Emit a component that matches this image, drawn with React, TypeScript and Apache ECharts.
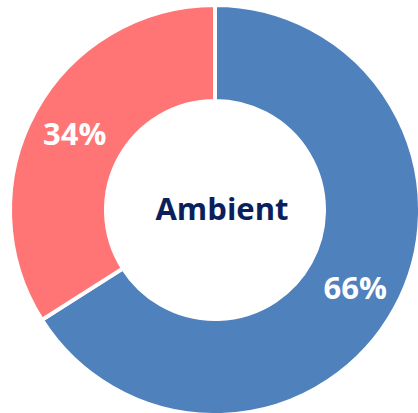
import React, { useEffect, useRef } from "react";
import * as echarts from "echarts";

const categories = ["Ambient (other)", "Ambient"];
const values = [66, 34];
const colors = ["#4F81BD", "#FF7575"];
const centerLabel = "Ambient";

export default function App() {
  const ref = useRef<HTMLDivElement>(null);
  useEffect(() => {
    if (!ref.current) return;
    const chart = echarts.init(ref.current, null, { renderer: "svg" });
    chart.setOption({
      animation: false,
      backgroundColor: "#ffffff",
      graphic: [
        {
          type: "text",
          x: 222,
          y: 208,
          style: {
            text: centerLabel,
            fill: "#0B1F5C",
            font: "bold 31px 'Open Sans'",
            textAlign: "center",
            textVerticalAlign: "middle",
          },
          z: 10,
        },
      ],
      series: [
        {
          type: "pie",
          center: [215, 210],
          radius: [109, 205],
          startAngle: 90,
          clockwise: true,
          avoidLabelOverlap: false,
          itemStyle: { borderColor: "#ffffff", borderWidth: 4 },
          label: {
            show: true,
            position: "inside",
            formatter: (p: any) => p.value + "%",
            color: "#ffffff",
            fontFamily: "Open Sans",
            fontWeight: "bold",
            fontSize: 31,
          },
          labelLine: { show: false },
          emphasis: { disabled: true },
          data: categories.map((c, i) => ({
            name: c,
            value: values[i],
            itemStyle: { color: colors[i] },
          })),
        },
      ],
    });
    return () => chart.dispose();
  }, []);
  return (
    <div
      ref={ref}
      style={{ position: "absolute", left: 0, top: 0, width: 418, height: 413 }}
    />
  );
}
